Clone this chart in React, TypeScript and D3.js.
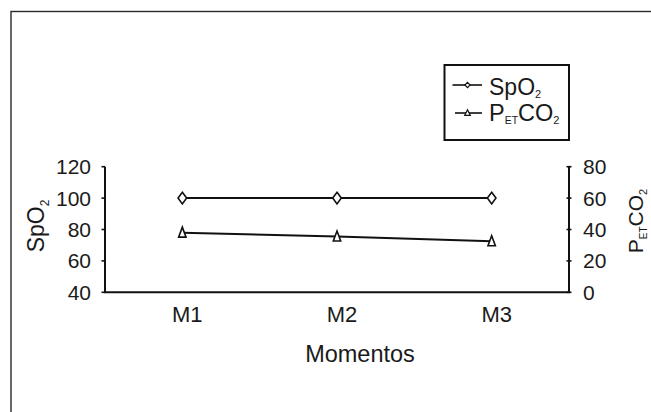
import React from "react";
import * as d3 from "d3";

const categories = ["M1", "M2", "M3"];
const spo2 = [100, 100, 100];
const petco2 = [38, 35.5, 32.5];
const leftTicks = [40, 60, 80, 100, 120];
const rightTicks = [0, 20, 40, 60, 80];

const W = 651;
const H = 412;
const FONT = "'Liberation Sans', Arial, Helvetica, sans-serif";

export default function App() {
  const x = d3.scaleBand<string>().domain(categories).range([105, 569]).padding(0);
  const yL = d3.scaleLinear().domain([40, 120]).range([292.3, 166.7]);
  const yR = d3.scaleLinear().domain([0, 80]).range([292.3, 166.7]);
  const cx = (c: string) => (x(c) as number) + x.bandwidth() / 2;

  const lineL = d3.line<number>().x((_, i) => cx(categories[i])).y((d) => yL(d));
  const lineR = d3.line<number>().x((_, i) => cx(categories[i])).y((d) => yR(d));

  const diamond = (px: number, py: number, hw: number, hh: number) =>
    `M${px},${py - hh}L${px + hw},${py}L${px},${py + hh}L${px - hw},${py}Z`;
  const triangle = (px: number, py: number, hw: number, up: number, down: number) =>
    `M${px},${py - up}L${px + hw},${py + down}L${px - hw},${py + down}Z`;

  return (
    <svg
      width={W}
      height={H}
      style={{ position: "fixed", left: 0, top: 0, background: "#fff" }}
      fontFamily={FONT}
    >
      <rect x={0} y={0} width={W} height={H} fill="#fff" />
      {/* outer frame */}
      <rect x={11} y={11.5} width={W + 20} height={H + 20} fill="none" stroke="#2a2a2a" strokeWidth={1.4} />

      {/* left axis */}
      <line x1={105} x2={105} y1={yL(120)} y2={yL(40)} stroke="#111" strokeWidth={2} />
      {leftTicks.map((t) => (
        <g key={"l" + t}>
          <line x1={101.5} x2={105} y1={yL(t)} y2={yL(t)} stroke="#111" strokeWidth={1.6} />
          <text x={91} y={yL(t)} dy="0.36em" textAnchor="end" fontSize={21} fill="#1a1a1a">
            {t}
          </text>
        </g>
      ))}

      {/* right axis */}
      <line x1={569} x2={569} y1={yR(80)} y2={yR(0)} stroke="#111" strokeWidth={2} />
      {rightTicks.map((t) => (
        <g key={"r" + t}>
          <line x1={566.5} x2={571.5} y1={yR(t)} y2={yR(t)} stroke="#111" strokeWidth={1.6} />
          <text x={583} y={yR(t)} dy="0.36em" textAnchor="start" fontSize={21} fill="#1a1a1a">
            {t}
          </text>
        </g>
      ))}

      {/* x axis */}
      <line x1={104} x2={570} y1={yL(40)} y2={yL(40)} stroke="#111" strokeWidth={2} />
      {categories.map((c) => (
        <text key={c} x={cx(c) + 5} y={322} textAnchor="middle" fontSize={22} fill="#1a1a1a">
          {c}
        </text>
      ))}
      <text x={360} y={362} textAnchor="middle" fontSize={23.5} fill="#1a1a1a">
        Momentos
      </text>

      {/* left title */}
      <text transform="translate(44,226) rotate(-90)" textAnchor="middle" fontSize={23} fill="#1a1a1a">
        SpO<tspan fontSize={12} dy={5}>2</tspan>
      </text>

      {/* right title */}
      <text transform="translate(643,221) rotate(-90)" textAnchor="middle" fontSize={21} fill="#1a1a1a">
        P<tspan fontSize={10} dy={4}>ET</tspan>
        <tspan dy={-4}>CO</tspan>
        <tspan fontSize={11} dy={4}>2</tspan>
      </text>

      {/* series lines */}
      <path d={lineL(spo2) as string} fill="none" stroke="#111" strokeWidth={2} />
      <path d={lineR(petco2) as string} fill="none" stroke="#111" strokeWidth={2} />
      {spo2.map((v, i) => (
        <path
          key={"d" + i}
          d={diamond(cx(categories[i]), yL(v), 4.3, 5.8)}
          fill="#fff"
          stroke="#111"
          strokeWidth={1.6}
        />
      ))}
      {petco2.map((v, i) => (
        <path
          key={"t" + i}
          d={triangle(cx(categories[i]), yR(v), 3.7, 5.5, 4.5)}
          fill="#fff"
          stroke="#111"
          strokeWidth={1.6}
        />
      ))}

      {/* legend */}
      <rect x={444.5} y={65} width={124.5} height={75} fill="#fff" stroke="#111" strokeWidth={2} />
      <line x1={452.5} x2={482} y1={85} y2={85} stroke="#111" strokeWidth={1.6} />
      <path d={diamond(467.5, 85, 2.6, 2.6)} fill="#fff" stroke="#111" strokeWidth={1.2} />
      <text x={489} y={95} fontSize={23} fill="#1a1a1a">
        SpO<tspan fontSize={11} dy={3}>2</tspan>
      </text>
      <line x1={455} x2={482} y1={113} y2={113} stroke="#111" strokeWidth={1.6} />
      <path d={triangle(467.5, 113, 2.8, 3.2, 2.4)} fill="#fff" stroke="#111" strokeWidth={1.2} />
      <text x={489} y={121} fontSize={23.5} fill="#1a1a1a">
        P<tspan fontSize={10.5} dy={3}>ET</tspan>
        <tspan dy={-3}>CO</tspan>
        <tspan fontSize={11} dy={3}>2</tspan>
      </text>
    </svg>
  );
}
